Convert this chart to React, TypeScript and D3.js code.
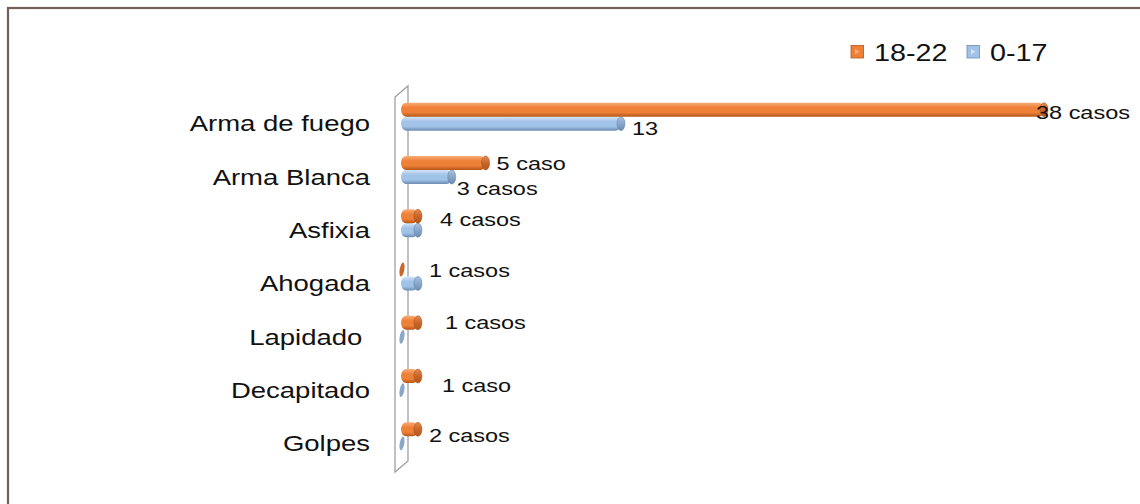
import React from "react";
import * as d3 from "d3";

const categories = ["Arma de fuego", "Arma Blanca", "Asfixia", "Ahogada", "Lapidado\u00a0", "Decapitado", "Golpes"];
const series1822 = [38, 5, 1, 0, 1, 1, 1];
const series017 = [13, 3, 1, 1, 0, 0, 0];
const labels1822 = ["38 casos", "5 caso", "4 casos", "1 casos", "1 casos", "1 caso", "2 casos"];
const labels017 = ["13", "3 casos", "", "", "", "", ""];
const legendNames = ["18-22", "0-17"];

// manual label nudges (layout only)
const nudge1822 = [[-12, 3], [7, 0], [18, 3], [24, 1], [23, 0], [20, 9], [7, 6]];
const nudge017 = [[7, 5], [1, 11], [0, 0], [0, 0], [0, 0], [0, 0], [0, 0]];

const W = 1140, H = 504;

const ORANGE = { top: "#f9ad78", mid: "#ef8038", bot: "#b3561a", cap: "#c9662a", capTop: "#e58a50", capStroke: "#9c4c18" };
const BLUE = { top: "#d5e5f6", mid: "#a2c3e8", bot: "#6c8cb2", cap: "#8aa7c9", capTop: "#a9c2df", capStroke: "#5d7ca0" };

export default function App() {
  const y = d3.scaleBand<string>().domain(categories).range([97, 470]);
  const x = d3.scaleLinear().domain([0, 38]).range([401, 1044]);
  const barH = 14;

  const bar = (v: number, cy: number, c: typeof ORANGE, id: string, key: string) => {
    const x0 = x(0);
    if (v <= 0) {
      return (
        <ellipse key={key} cx={x0 + 1} cy={cy} rx={2.3} ry={barH / 2}
          transform={`rotate(10 ${x0 + 1} ${cy})`} fill={c.cap} />
      );
    }
    const x1 = x(v);
    return (
      <g key={key}>
        <rect x={x0} y={cy - barH / 2} width={x1 - x0} height={barH} rx={5} ry={barH / 2} fill={`url(#${id})`} />
        <ellipse cx={x1} cy={cy} rx={4} ry={barH / 2} fill={`url(#${id}c)`} stroke={c.capStroke} strokeWidth={0.5} />
      </g>
    );
  };

  const txt = (s: string, tx: number, ty: number, size: number, anchor: string, sx: number, key?: string) => (
    <text key={key} transform={`translate(${tx},${ty}) scale(${sx},1)`} fontSize={size}
      fontFamily="'Liberation Sans', Arial, sans-serif" fill="#111" textAnchor={anchor}>{s}</text>
  );

  return (
    <svg width={W} height={H} style={{ position: "absolute", left: 0, top: 0, background: "#fff" }}>
      <defs>
        {[["gO", ORANGE], ["gB", BLUE]].map(([id, c]: any) => (
          <g key={id}>
            <linearGradient id={id} x1="0" y1="0" x2="0" y2="1">
              <stop offset="0" stopColor={c.top} />
              <stop offset="0.35" stopColor={c.mid} />
              <stop offset="0.7" stopColor={c.mid} />
              <stop offset="1" stopColor={c.bot} />
            </linearGradient>
            <linearGradient id={id + "c"} x1="0" y1="0" x2="0" y2="1">
              <stop offset="0" stopColor={c.capTop} />
              <stop offset="0.5" stopColor={c.cap} />
              <stop offset="1" stopColor={c.bot} />
            </linearGradient>
          </g>
        ))}
      </defs>
      <rect x={0} y={0} width={W} height={H} fill="#fff" />
      <rect x={8} y={8} width={W + 20} height={H + 20} fill="none" stroke="#735f55" strokeWidth={2.2} />

      {/* axis wall */}
      <path d="M395,97 L408,86 L408,461 L395,472 Z" fill="none" stroke="#a0a0a0" strokeWidth={1.3} />

      {categories.map((c, i) => {
        const cy = (y(c) as number) + y.bandwidth() / 2;
        return txt(c, 370, cy + 7.8, 22, "end", 1.25, "cat" + i);
      })}

      {categories.map((c, i) => {
        const cy = (y(c) as number) + y.bandwidth() / 2;
        return (
          <g key={"b" + i}>
            {bar(series017[i], cy, BLUE, "gB", "blue" + i)}
            {bar(series1822[i], cy - barH, ORANGE, "gO", "or" + i)}
          </g>
        );
      })}

      {categories.map((c, i) => {
        const cy = (y(c) as number) + y.bandwidth() / 2;
        const out: any[] = [];
        if (labels1822[i]) {
          const ex = x(series1822[i]) + 4;
          out.push(txt(labels1822[i], ex + nudge1822[i][0], cy - barH + nudge1822[i][1] + 6.7, 18.5, "start", 1.27, "l1" + i));
        }
        if (labels017[i]) {
          const ex = x(series017[i]) + 4;
          out.push(txt(labels017[i], ex + nudge017[i][0], cy + nudge017[i][1] + 6.7, 18.5, "start", 1.27, "l2" + i));
        }
        return <g key={"lab" + i}>{out}</g>;
      })}

      {/* legend */}
      {legendNames.map((n, i) => {
        const lx = i === 0 ? 851 : 967;
        const c = i === 0 ? ORANGE : BLUE;
        return (
          <g key={"lg" + i}>
            <rect x={lx} y={45.5} width={12.5} height={12.5} fill={c.mid} stroke={c.bot} strokeWidth={0.8} />
            <path d={`M${lx + 4},${49} L${lx + 8.5},${51.75} L${lx + 4},${54.5} Z`} fill={c.top} />
            {txt(n, lx + 23, 61, 23, "start", 1.25)}
          </g>
        );
      })}
    </svg>
  );
}
